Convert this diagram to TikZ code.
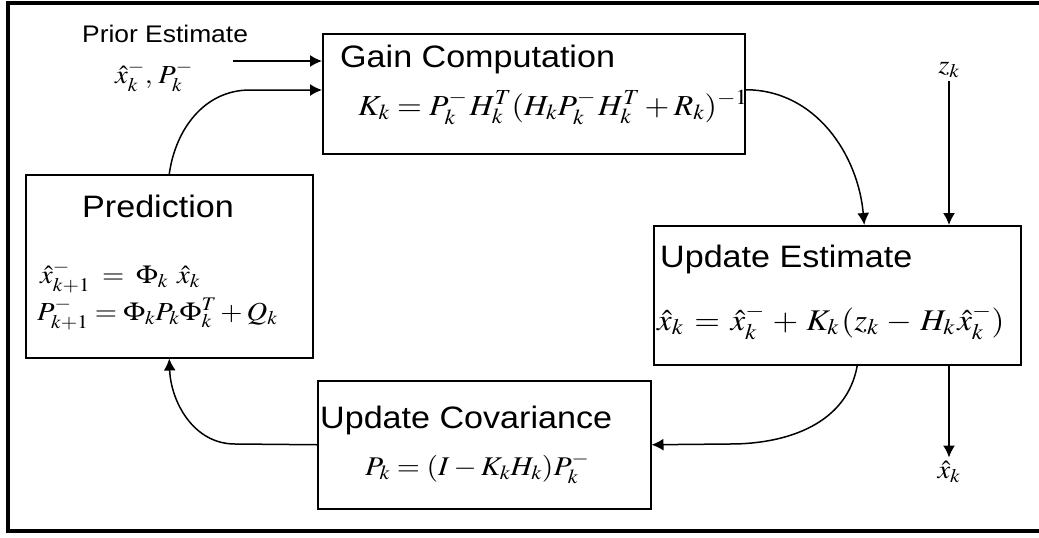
\documentclass[tikz,border=0pt]{standalone}
\usepackage{mathptmx}
\usepackage{graphicx}
\usepackage[no-math]{fontspec}
\setmainfont{Liberation Sans}[FakeStretch=1.1]
\usetikzlibrary{arrows.meta}

\newcommand{\wideeq}[1]{\scalebox{1.1}[1]{$#1$}}
\newcommand{\eqgap}[1][4pt]{\hspace{#1}}

\tikzset{
	blockbox/.style={draw, line width=1.5pt, anchor=north west, inner sep=0pt},
	blocktitle/.style={anchor=base west, inner sep=0pt, font=\fontsize{31}{36}\selectfont},
	formula/.style={anchor=base west, inner sep=0pt},
	flow/.style={line width=1.5pt, arrows={-{Latex[length=12pt, width=12pt]}}},
}

\begin{document}
\begin{tikzpicture}[x=1pt, y=-1pt]
	\useasboundingbox (0,0) rectangle (1039,538);
	\fill [white] (0,0) rectangle (1039,538);
	\draw [line width=4pt] (1060,3) -- (8,3) -- (8,531) -- (1060,531);

	\node [blockbox, minimum width=422pt, minimum height=120pt] (gain) at (322,33) {};
	\node [blockbox, minimum width=287pt, minimum height=183pt] (predict) at (25,174) {};
	\node [blockbox, minimum width=367pt, minimum height=139pt] (update) at (653,225) {};
	\node [blockbox, minimum width=333pt, minimum height=128pt] (covar) at (317,380) {};

	\node [blocktitle] (gaintitle) at (340,67) {Gain Computation};
	\node [formula, font=\fontsize{29}{34}\selectfont] (gaineq) at (358,115)
		{\wideeq{K_k = P_k^- \eqgap[2pt] H_k^T (H_k P_k^- \eqgap[2pt] H_k^T + R_k)^{-1}}};
	\node [blocktitle] (predtitle) at (82,217) {Prediction};
	\node [formula, font=\fontsize{26}{30}\selectfont] (predeqa) at (40,283)
		{\wideeq{\hat{x}_{k+1}^- \eqgap[5pt] = \eqgap[5pt] \Phi_k \eqgap[8pt] \hat{x}_k}};
	\node [formula, font=\fontsize{26}{30}\selectfont] (predeqb) at (37,320) {\wideeq{P_{k+1}^- = \Phi_k P_k \Phi_k^T + Q_k}};
	\node [blocktitle] (updtitle) at (660,267) {Update Estimate};
	\node [formula, font=\fontsize{30}{34}\selectfont] (updeq) at (657,330)
		{\wideeq{\hat{x}_k \eqgap[3pt] = \eqgap[3pt] \hat{x}_k^- \eqgap[3pt] + \eqgap[3pt] K_k \eqgap[2pt] (z_k \eqgap[3pt] - \eqgap[3pt] H_k \eqgap[2pt] \hat{x}_k^-)}};
	\node [blocktitle] (covtitle) at (320,428) {Update Covariance};
	\node [formula, font=\fontsize{27}{31}\selectfont] (coveq) at (365,475) {\wideeq{P_k = (I - K_k H_k) P_k^-}};

	\node [anchor=base west, inner sep=0pt, font=\fontsize{24}{28}\selectfont] (prior) at (82,42) {Prior Estimate};
	\node [formula, font=\fontsize{26}{30}\selectfont] (priorval) at (115,83) {\wideeq{\hat{x}_k^-, \eqgap[2pt] P_k^-}};
	\node [font=\fontsize{26}{30}\selectfont] (zk) at (949,70) {\wideeq{z_k}};
	\node [font=\fontsize{26}{30}\selectfont] (xhat) at (949,472) {\wideeq{\hat{x}_k}};

	\coordinate (priorstart) at (233,61);
	\coordinate (loopin) at (250,90);
	\coordinate (covbend) at (730,444);
	\coordinate (predbend) at (235,444);

	\draw [flow] (priorstart) -- (priorstart -| gain.west);
	\draw [flow] (predict.north) to [out=82, in=180] (loopin) -- (loopin -| gain.west);
	\draw [flow] ([yshift=4pt]gain.east) to [out=0, in=95] ([xshift=27pt]update.north);
	\draw [flow] (zk.south) -- (zk |- update.north);
	\draw [flow] (zk |- update.south) -- (xhat.north);
	\draw [flow] ([xshift=20pt]update.south) to [out=-100, in=0] (covbend) -- (covar.east);
	\draw [flow] (covar.west) -- (predbend) to [out=180, in=-88] (predict.south);
\end{tikzpicture}
\end{document}
